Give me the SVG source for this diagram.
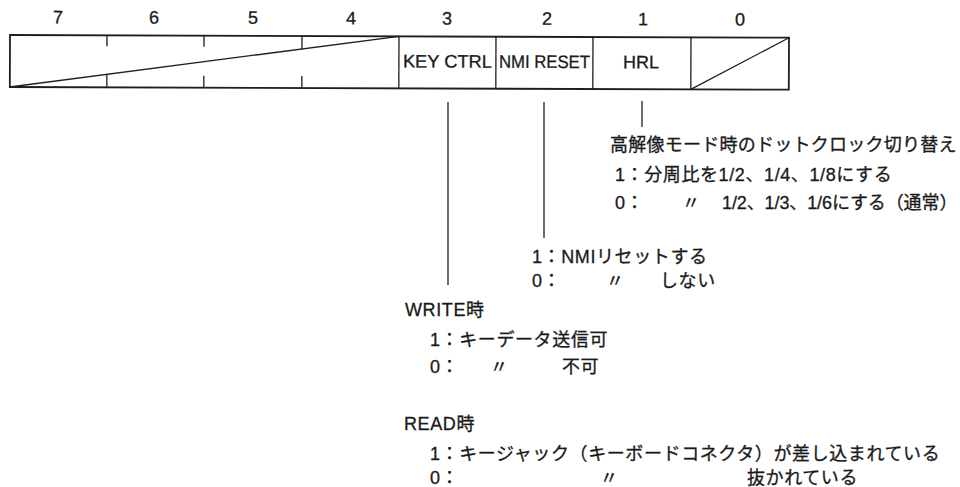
<svg xmlns="http://www.w3.org/2000/svg" width="960" height="487" viewBox="0 0 960 487">
<style>
.bg{fill:#ffffff}
.frame{fill:none;stroke:#1e1e1e;stroke-width:1.8}
.ln{fill:none;stroke:#1e1e1e;stroke-width:1.3}
.num{font-family:"Liberation Sans",Arial,sans-serif;font-size:18px;fill:#1a1a1a;stroke:#1a1a1a;stroke-width:0.3;text-anchor:middle}
.lab{font-family:"Liberation Sans",Arial,sans-serif;font-size:18px;fill:#1a1a1a;stroke:#1a1a1a;stroke-width:0.3}
.jp{font-family:"Liberation Sans","Noto Sans CJK JP",sans-serif;font-size:18px;fill:#1a1a1a;stroke:#1a1a1a;stroke-width:0.3;letter-spacing:0.6px}
</style>
<rect class="bg" x="0" y="0" width="960" height="487"/>
<g id="register" transform="rotate(0.2 10 35)">
  <g id="bit-numbers">
    <text class="num" x="58" y="23">7</text>
    <text class="num" x="154" y="23">6</text>
    <text class="num" x="253" y="23">5</text>
    <text class="num" x="351" y="23">4</text>
    <text class="num" x="447" y="23">3</text>
    <text class="num" x="547" y="23">2</text>
    <text class="num" x="643" y="23">1</text>
    <text class="num" x="740" y="23">0</text>
  </g>
  <rect class="frame" x="10" y="35" width="779" height="52"/>
  <g id="bits7-4">
    <line class="ln" x1="399" y1="35" x2="10" y2="87"/>
    <line class="ln" x1="107" y1="35" x2="107" y2="46"/>
    <line class="ln" x1="204" y1="35" x2="204" y2="46"/>
    <line class="ln" x1="302" y1="35" x2="302" y2="48"/>
    <line class="ln" x1="107" y1="74" x2="107" y2="87"/>
    <line class="ln" x1="204" y1="75" x2="204" y2="87"/>
    <line class="ln" x1="302" y1="75" x2="302" y2="87"/>
  </g>
  <g id="bit3">
    <line class="ln" x1="399" y1="35" x2="399" y2="87"/>
    <text class="lab" x="403" y="66" textLength="89" lengthAdjust="spacingAndGlyphs">KEY CTRL</text>
  </g>
  <g id="bit2">
    <line class="ln" x1="496" y1="35" x2="496" y2="87"/>
    <text class="lab" x="499" y="66" textLength="91" lengthAdjust="spacingAndGlyphs">NMI RESET</text>
  </g>
  <g id="bit1">
    <line class="ln" x1="593" y1="35" x2="593" y2="87"/>
    <text class="lab" x="623" y="66">HRL</text>
  </g>
  <g id="bit0">
    <line class="ln" x1="691" y1="35" x2="691" y2="87"/>
    <line class="ln" x1="789" y1="35" x2="691" y2="87"/>
  </g>
</g>
<g id="connectors">
  <line class="ln" x1="448" y1="102" x2="448" y2="285"/>
  <line class="ln" x1="544" y1="102" x2="544" y2="238"/>
  <line class="ln" x1="642" y1="101" x2="642" y2="127"/>
</g>
<g id="hrl-desc">
  <text class="jp" x="610" y="151" textLength="347" lengthAdjust="spacing">高解像モード時のドットクロック切り替え</text>
  <text class="jp" x="615" y="181">1：分周比を1/2、1/4、1/8にする</text>
  <text class="jp" x="615" y="209">0：</text>
  <text class="jp" x="682" y="209">〃</text>
  <text class="jp" x="722" y="209" textLength="236" lengthAdjust="spacing">1/2、1/3、1/6にする（通常）</text>
</g>
<g id="nmi-desc">
  <text class="jp" x="532" y="263">1：NMIリセットする</text>
  <text class="jp" x="532" y="287">0：</text>
  <text class="jp" x="606" y="287">〃</text>
  <text class="jp" x="660" y="287">しない</text>
</g>
<g id="keyctrl-desc">
  <text class="jp" x="405" y="316">WRITE時</text>
  <text class="jp" x="430" y="346">1：キーデータ送信可</text>
  <text class="jp" x="430" y="373">0：</text>
  <text class="jp" x="490" y="373">〃</text>
  <text class="jp" x="562" y="373">不可</text>
  <text class="jp" x="404" y="430">READ時</text>
  <text class="jp" x="430" y="460">1：キージャック（キーボードコネクタ）が差し込まれている</text>
  <text class="jp" x="430" y="484">0：</text>
  <text class="jp" x="600" y="484">〃</text>
  <text class="jp" x="747" y="484">抜かれている</text>
</g>
</svg>
